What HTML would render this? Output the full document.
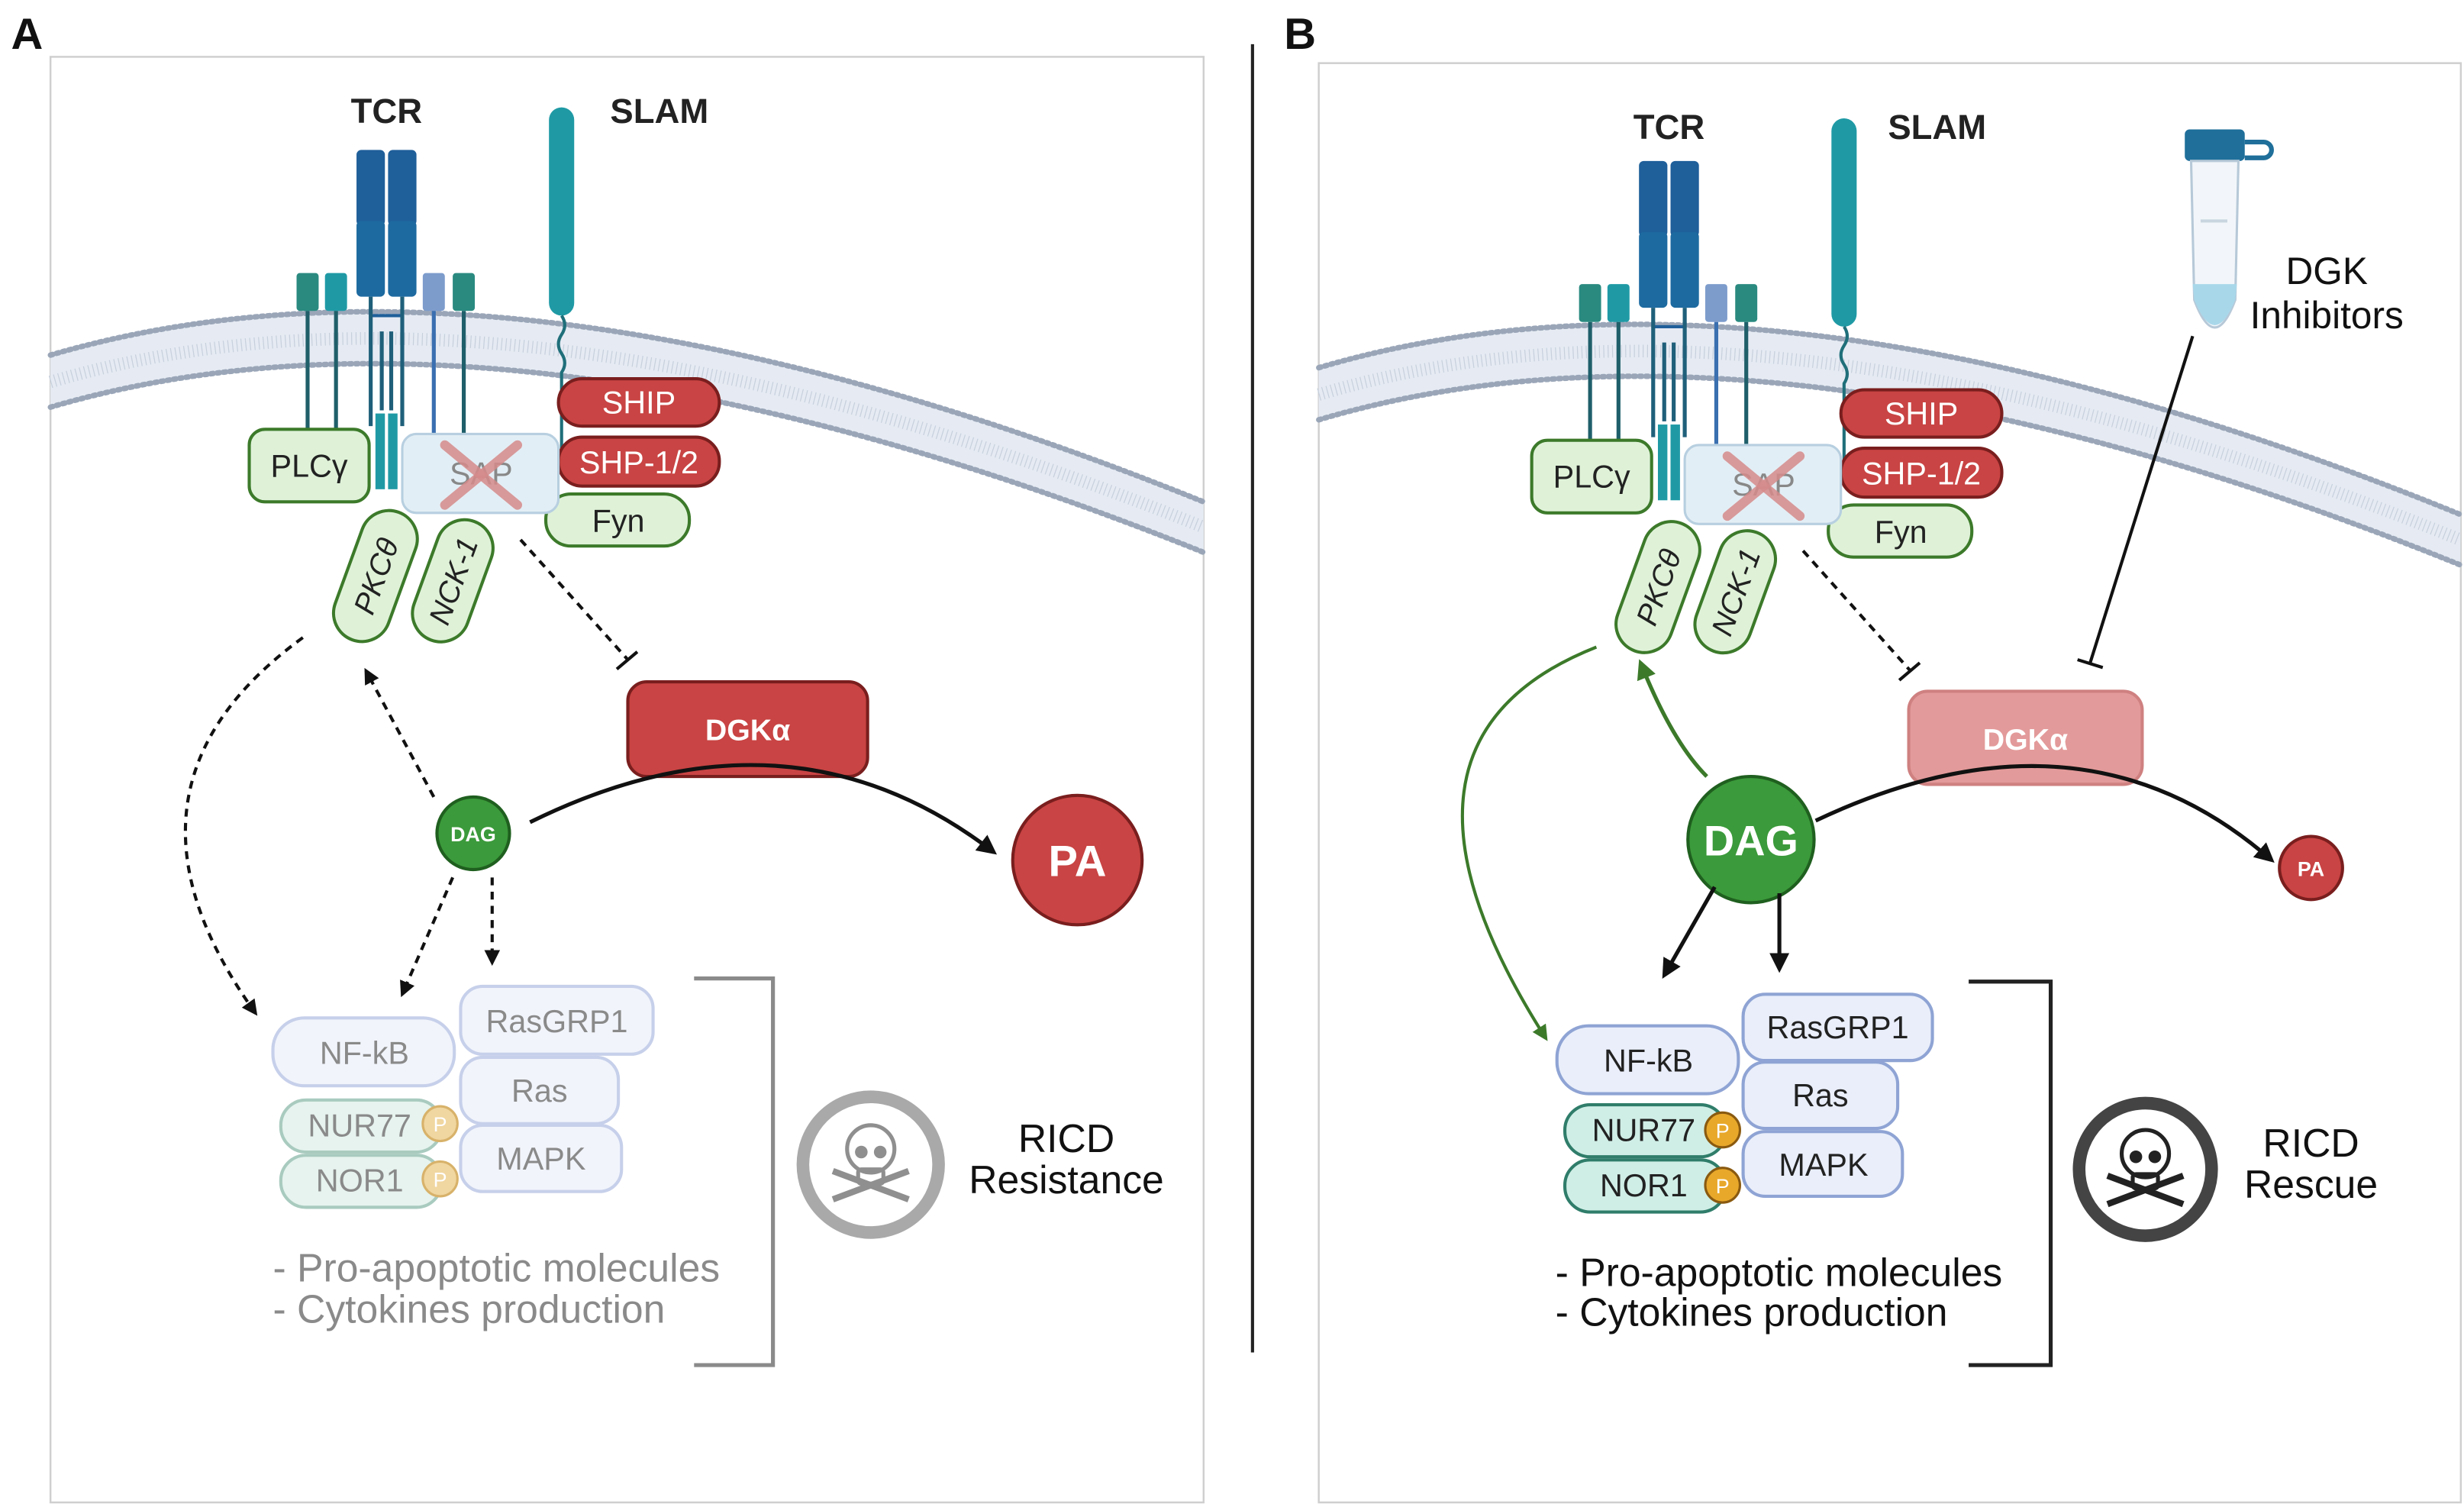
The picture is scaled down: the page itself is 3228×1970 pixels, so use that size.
<!DOCTYPE html>
<html><head><meta charset="utf-8"><style>html,body{margin:0;padding:0;background:#fff}svg{display:block}</style></head>
<body>
<svg width="3228" height="1970" viewBox="0 0 1562 953" preserveAspectRatio="none" xmlns="http://www.w3.org/2000/svg" font-family="Liberation Sans, sans-serif">
<defs>
<marker id="ah" viewBox="0 0 10 10" refX="8" refY="5" markerWidth="5" markerHeight="5" orient="auto"><path d="M0,0L10,5L0,10z" fill="#111"/></marker>
<marker id="ahg" viewBox="0 0 10 10" refX="8" refY="5" markerWidth="5" markerHeight="5" orient="auto"><path d="M0,0L10,5L0,10z" fill="#3c7a2a"/></marker>
<g id="memb">
<path d="M0,225 Q290,140 731,318 L731,350 Q290,173 0,258 Z" fill="#e6ebf3"/>
<path d="M0,225 Q290,140 731,318" fill="none" stroke="#9aa6b8" stroke-width="3.5" stroke-dasharray="1.5 2.5" stroke-linecap="round"/>
<path d="M0,242 Q290,157 731,334" fill="none" stroke="#c7d0dd" stroke-width="8" stroke-dasharray="0.6 2.2"/>
<path d="M0,258 Q290,173 731,350" fill="none" stroke="#9aa6b8" stroke-width="3.5" stroke-dasharray="1.5 2.5" stroke-linecap="round"/>
</g>
<g id="cplx">
<rect x="188" y="173" width="14" height="24" rx="2" fill="#2a8a80"/>
<rect x="206" y="173" width="14" height="24" rx="2" fill="#1f9aa5"/>
<rect x="268" y="173" width="14" height="24" rx="2" fill="#7d9ccc"/>
<rect x="287" y="173" width="14" height="24" rx="2" fill="#2a8a80"/>
<g stroke="#1f5f6a" stroke-width="2.5"><line x1="195" y1="197" x2="195" y2="272"/><line x1="213" y1="197" x2="213" y2="272"/><line x1="275" y1="197" x2="275" y2="285" stroke="#3a6fb0"/><line x1="294" y1="197" x2="294" y2="285"/></g>
<rect x="226" y="95" width="18" height="48" rx="3" fill="#1f5f9a"/>
<rect x="246" y="95" width="18" height="48" rx="3" fill="#1f5f9a"/>
<rect x="226" y="140" width="18" height="48" rx="3" fill="#1d6aa0"/>
<rect x="246" y="140" width="18" height="48" rx="3" fill="#1d6aa0"/>
<line x1="235" y1="200" x2="255" y2="200" stroke="#1f5f9a" stroke-width="2"/>
<g stroke="#1f5f7a" stroke-width="2.5"><line x1="235" y1="188" x2="235" y2="270"/><line x1="255" y1="188" x2="255" y2="270"/><line x1="242" y1="210" x2="242" y2="260"/><line x1="248" y1="210" x2="248" y2="260"/></g>
<rect x="238" y="262" width="6" height="48" fill="#1f9aa5"/><rect x="246" y="262" width="6" height="48" fill="#1f9aa5"/>
<rect x="348" y="68" width="16" height="132" rx="8" fill="#1f9aa5"/>
<path d="M356,200 q4,6 0,12 q-4,6 0,12 q4,6 0,12 l0,60" fill="none" stroke="#1f6f7a" stroke-width="2"/>
<rect x="346" y="313" width="91" height="33" rx="16" fill="#dff2d8" stroke="#3c7a2a" stroke-width="2"/>
<text x="392" y="337" font-size="20" text-anchor="middle" fill="#222">Fyn</text>
<rect x="354" y="240" width="102" height="30" rx="15" fill="#c94444" stroke="#7a1e1e" stroke-width="2"/>
<text x="405" y="262" font-size="20" text-anchor="middle" fill="#fff">SHIP</text>
<rect x="354" y="277" width="102" height="31" rx="15" fill="#c94444" stroke="#7a1e1e" stroke-width="2"/>
<text x="405" y="300" font-size="20" text-anchor="middle" fill="#fff">SHP-1/2</text>
<rect x="158" y="272" width="76" height="46" rx="10" fill="#dff2d8" stroke="#3c7a2a" stroke-width="2"/>
<text x="196" y="302" font-size="20" text-anchor="middle" fill="#222">PLCγ</text>
<rect x="255" y="275" width="99" height="50" rx="9" fill="#e2eef5" stroke="#b7cfe0" stroke-width="1.5"/>
<text x="305" y="307" font-size="20" text-anchor="middle" fill="#888">SAP</text>
<line x1="282" y1="282" x2="328" y2="320" stroke="#d68b8b" stroke-width="6" opacity="0.85" stroke-linecap="round"/>
<line x1="328" y1="282" x2="282" y2="320" stroke="#d68b8b" stroke-width="6" opacity="0.85" stroke-linecap="round"/>
<g transform="translate(238,365) rotate(20)"><rect x="-18" y="-43" width="36" height="86" rx="18" fill="#dff2d8" stroke="#3c7a2a" stroke-width="2"/><text transform="rotate(-90)" x="0" y="7" font-size="19" font-style="italic" text-anchor="middle" fill="#222">PKCθ</text></g>
<g transform="translate(287,368) rotate(20)"><rect x="-18" y="-40" width="36" height="80" rx="18" fill="#dff2d8" stroke="#3c7a2a" stroke-width="2"/><text transform="rotate(-90)" x="0" y="7" font-size="19" font-style="italic" text-anchor="middle" fill="#222">NCK-1</text></g>
<path d="M330,342 L398,418" stroke="#111" stroke-width="2" stroke-dasharray="5 4" fill="none"/>
<line x1="391" y1="424" x2="404" y2="413" stroke="#111" stroke-width="2"/>
</g>
<g id="skull">
<ellipse cx="0" cy="-10" rx="15" ry="15" fill="none" stroke="currentColor" stroke-width="2.5"/>
<rect x="-8" y="3" width="16" height="9" rx="2" fill="none" stroke="currentColor" stroke-width="2.5"/>
<circle cx="-6" cy="-8" r="4" fill="currentColor"/><circle cx="6" cy="-8" r="4" fill="currentColor"/>
<line x1="-24" y1="4" x2="24" y2="22" stroke="currentColor" stroke-width="4"/><line x1="24" y1="4" x2="-24" y2="22" stroke="currentColor" stroke-width="4"/>
</g>
</defs>

<text x="7" y="31" font-size="28" font-weight="bold" fill="#111">A</text>
<text x="814" y="31" font-size="28" font-weight="bold" fill="#111">B</text>
<line x1="794" y1="28" x2="794" y2="857" stroke="#222" stroke-width="2"/>

<!-- Panel A -->
<rect x="32" y="36" width="731" height="916" fill="#fff" stroke="#cfcfcf" stroke-width="1.2"/>
<use href="#memb" transform="translate(32,0)"/>
<text x="245" y="78" font-size="22" font-weight="bold" text-anchor="middle" fill="#222">TCR</text>
<text x="418" y="78" font-size="22" font-weight="bold" text-anchor="middle" fill="#222">SLAM</text>
<use href="#cplx"/>
<rect x="398" y="432" width="152" height="60" rx="12" fill="#c94444" stroke="#7a1e1e" stroke-width="2"/>
<text x="474" y="469" font-size="19" font-weight="bold" text-anchor="middle" fill="#fff">DGKα</text>
<circle cx="300" cy="528" r="23" fill="#3b9a3b" stroke="#1f5f1f" stroke-width="2"/>
<text x="300" y="533" font-size="13" font-weight="bold" text-anchor="middle" fill="#fff">DAG</text>
<circle cx="683" cy="545" r="41" fill="#c94444" stroke="#7a1e1e" stroke-width="2"/>
<text x="683" y="555" font-size="28" font-weight="bold" text-anchor="middle" fill="#fff">PA</text>
<path d="M336,521 Q500,440 630,540" fill="none" stroke="#111" stroke-width="2.5" marker-end="url(#ah)"/>
<g fill="none" stroke="#111" stroke-width="2" stroke-dasharray="5 4">
<path d="M192,404 Q60,500 162,642" marker-end="url(#ah)"/>
<path d="M275,505 L232,425" marker-end="url(#ah)"/>
<path d="M287,556 L255,630" marker-end="url(#ah)"/>
<path d="M312,556 L312,610" marker-end="url(#ah)"/>
</g>
<g font-size="20" text-anchor="middle" fill="#8a8a8a">
<rect x="292" y="625" width="122" height="43" rx="14" fill="#f1f4fb" stroke="#c7d0ea" stroke-width="2"/><text x="353" y="654">RasGRP1</text>
<rect x="292" y="670" width="100" height="42" rx="14" fill="#f1f4fb" stroke="#c7d0ea" stroke-width="2"/><text x="342" y="698">Ras</text>
<rect x="292" y="713" width="102" height="42" rx="14" fill="#f1f4fb" stroke="#c7d0ea" stroke-width="2"/><text x="343" y="741">MAPK</text>
<rect x="173" y="645" width="115" height="43" rx="20" fill="#f1f4fb" stroke="#c7d0ea" stroke-width="2"/><text x="231" y="674">NF-kB</text>
<rect x="178" y="697" width="102" height="33" rx="16" fill="#e6f3ee" stroke="#a9cbbf" stroke-width="2"/><text x="228" y="720">NUR77</text>
<rect x="178" y="732" width="102" height="33" rx="16" fill="#e6f3ee" stroke="#a9cbbf" stroke-width="2"/><text x="228" y="755">NOR1</text>
</g>
<circle cx="279" cy="712" r="11" fill="#f0d6a0" stroke="#d8b26a" stroke-width="1.5"/><text x="279" y="717" font-size="13" text-anchor="middle" fill="#fff">P</text>
<circle cx="279" cy="747" r="11" fill="#f0d6a0" stroke="#d8b26a" stroke-width="1.5"/><text x="279" y="752" font-size="13" text-anchor="middle" fill="#fff">P</text>
<text x="173" y="812" font-size="25" fill="#8a8a8a">- Pro-apoptotic molecules</text>
<text x="173" y="838" font-size="25" fill="#8a8a8a">- Cytokines production</text>
<path d="M440,620 L490,620 L490,865 L440,865" fill="none" stroke="#8a8a8a" stroke-width="2.5"/>
<circle cx="552" cy="738" r="43" fill="none" stroke="#a9a9a9" stroke-width="8"/>
<g transform="translate(552,738)" color="#8f8f8f"><use href="#skull"/></g>
<text x="676" y="730" font-size="25" text-anchor="middle" fill="#111">RICD</text>
<text x="676" y="756" font-size="25" text-anchor="middle" fill="#111">Resistance</text>

<!-- Panel B -->
<rect x="836" y="40" width="724" height="912" fill="#fff" stroke="#cfcfcf" stroke-width="1.2"/>
<use href="#memb" transform="translate(836,8) scale(0.99,1)"/>
<text x="1058" y="88" font-size="22" font-weight="bold" text-anchor="middle" fill="#222">TCR</text>
<text x="1228" y="88" font-size="22" font-weight="bold" text-anchor="middle" fill="#222">SLAM</text>
<use href="#cplx" transform="translate(813,7)"/>
<rect x="1385" y="82" width="38" height="20" rx="3" fill="#1f6f9a"/>
<path d="M1423,90 h12 a5,5 0 0 1 0,10 h-12" fill="none" stroke="#1f6f9a" stroke-width="3"/>
<path d="M1389,102 L1419,102 L1417,190 Q1404,225 1391,190 Z" fill="#f2f6fa" stroke="#b7c9d8" stroke-width="1.5"/>
<path d="M1390,180 L1418,180 L1417,190 Q1404,222 1391,190 Z" fill="#a9d7ea"/>
<line x1="1395" y1="140" x2="1412" y2="140" stroke="#c9d5df" stroke-width="2"/>
<text x="1475" y="180" font-size="24" text-anchor="middle" fill="#111">DGK</text>
<text x="1475" y="208" font-size="24" text-anchor="middle" fill="#111">Inhibitors</text>
<line x1="1390" y1="213" x2="1325" y2="420" stroke="#111" stroke-width="2"/>
<line x1="1317" y1="418" x2="1333" y2="423" stroke="#111" stroke-width="2"/>
<rect x="1210" y="438" width="148" height="59" rx="12" fill="#e39a9a" stroke="#cf8080" stroke-width="2"/>
<text x="1284" y="475" font-size="19" font-weight="bold" text-anchor="middle" fill="#fff">DGKα</text>
<circle cx="1110" cy="532" r="40" fill="#3b9a3b" stroke="#1f5f1f" stroke-width="2"/>
<text x="1110" y="542" font-size="27" font-weight="bold" text-anchor="middle" fill="#fff">DAG</text>
<circle cx="1465" cy="550" r="20" fill="#c94444" stroke="#7a1e1e" stroke-width="2"/>
<text x="1465" y="555" font-size="13" font-weight="bold" text-anchor="middle" fill="#fff">PA</text>
<path d="M1151,520 Q1320,440 1440,545" fill="none" stroke="#111" stroke-width="2.5" marker-end="url(#ah)"/>
<path d="M1087,562 L1055,618" fill="none" stroke="#111" stroke-width="2.5" marker-end="url(#ah)"/>
<path d="M1128,566 L1128,614" fill="none" stroke="#111" stroke-width="2.5" marker-end="url(#ah)"/>
<path d="M1082,492 Q1060,470 1040,420" fill="none" stroke="#3c7a2a" stroke-width="2.5" marker-end="url(#ahg)"/>
<path d="M1012,410 Q860,470 980,658" fill="none" stroke="#3c7a2a" stroke-width="2" marker-end="url(#ahg)"/>
<g font-size="20" text-anchor="middle" fill="#222">
<rect x="1105" y="630" width="120" height="42" rx="14" fill="#e9eefa" stroke="#8fa4d4" stroke-width="2"/><text x="1165" y="658">RasGRP1</text>
<rect x="1105" y="673" width="98" height="42" rx="14" fill="#e9eefa" stroke="#8fa4d4" stroke-width="2"/><text x="1154" y="701">Ras</text>
<rect x="1105" y="717" width="101" height="41" rx="14" fill="#e9eefa" stroke="#8fa4d4" stroke-width="2"/><text x="1156" y="745">MAPK</text>
<rect x="987" y="650" width="115" height="43" rx="20" fill="#e9eefa" stroke="#8fa4d4" stroke-width="2"/><text x="1045" y="679">NF-kB</text>
<rect x="992" y="700" width="102" height="33" rx="16" fill="#cfeee6" stroke="#2f7d6a" stroke-width="2"/><text x="1042" y="723">NUR77</text>
<rect x="992" y="735" width="102" height="33" rx="16" fill="#cfeee6" stroke="#2f7d6a" stroke-width="2"/><text x="1042" y="758">NOR1</text>
</g>
<circle cx="1092" cy="716" r="11" fill="#e8a82a" stroke="#8a5a10" stroke-width="1.5"/><text x="1092" y="721" font-size="13" text-anchor="middle" fill="#fff">P</text>
<circle cx="1092" cy="751" r="11" fill="#e8a82a" stroke="#8a5a10" stroke-width="1.5"/><text x="1092" y="756" font-size="13" text-anchor="middle" fill="#fff">P</text>
<text x="986" y="815" font-size="25" fill="#111">- Pro-apoptotic molecules</text>
<text x="986" y="840" font-size="25" fill="#111">- Cytokines production</text>
<path d="M1248,622 L1300,622 L1300,865 L1248,865" fill="none" stroke="#222" stroke-width="2.5"/>
<circle cx="1360" cy="741" r="42" fill="none" stroke="#444" stroke-width="8"/>
<g transform="translate(1360,741)" color="#222"><use href="#skull"/></g>
<text x="1465" y="733" font-size="25" text-anchor="middle" fill="#111">RICD</text>
<text x="1465" y="759" font-size="25" text-anchor="middle" fill="#111">Rescue</text>
</svg>
</body></html>
